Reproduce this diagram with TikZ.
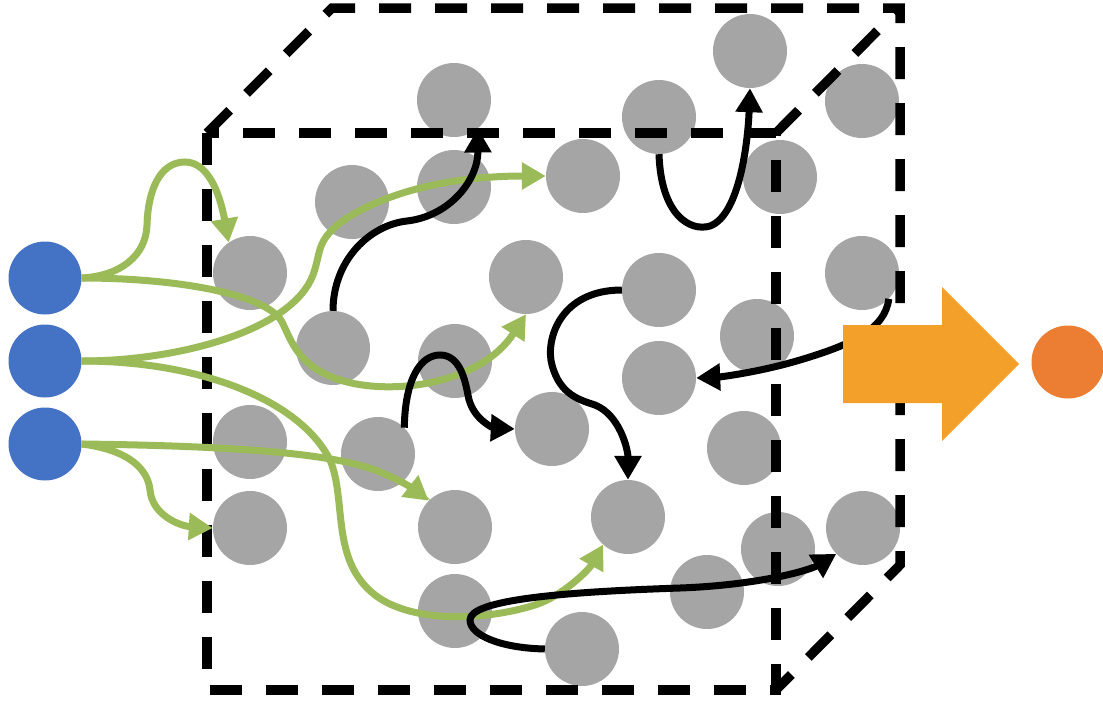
\documentclass[tikz,border=0pt]{standalone}
\usepackage{tikz}
\usetikzlibrary{arrows.meta}

\definecolor{particlegray}{HTML}{A5A5A5}
\definecolor{sourceblue}{HTML}{4472C4}
\definecolor{flowgreen}{HTML}{9BBB59}
\definecolor{bigorange}{HTML}{F3A02B}
\definecolor{outorange}{HTML}{EB7E32}

\tikzset{
  particle/.style={
    circle, fill=particlegray, draw=none,
    minimum size=74pt, inner sep=0pt
  },
  source/.style={
    circle, fill=sourceblue, draw=none,
    minimum size=73pt, inner sep=0pt
  },
  sink/.style={
    circle, fill=outorange, draw=none,
    minimum size=73pt, inner sep=0pt
  },
  inflow/.style={-{Triangle[length=24pt,width=26pt]}, line width=7pt, flowgreen},
  hop/.style={-{Triangle[length=24pt,width=26pt]}, line width=7pt, black},
  cubeedge/.style={line width=9.5pt, dash pattern=on 32pt off 24pt}
}

\begin{document}
\begin{tikzpicture}[x=1pt, y=-1pt]

\useasboundingbox (0,0) rectangle (1103,702);

% ── inputs ───────────────────────────────────────────────────────────────────
\node[source] (b1) at (45,278) {};
\node[source] (b2) at (45,361) {};
\node[source] (b3) at (45,444) {};

% ── particles ────────────────────────────────────────────────────────────────
\node[particle] (g1)  at (454,100) {};
\node[particle] (g2)  at (750,51)  {};
\node[particle] (g3)  at (659,117) {};
\node[particle] (g4)  at (862,101) {};
\node[particle] (g5)  at (352,202) {};
\node[particle] (g6)  at (454,187) {};
\node[particle] (g7)  at (583,176) {};
\node[particle] (g8)  at (780,177) {};
\node[particle] (g9)  at (250,273) {};
\node[particle] (g10) at (526,277) {};
\node[particle] (g11) at (659,290) {};
\node[particle] (g12) at (862,273) {};
\node[particle] (g13) at (333,348) {};
\node[particle] (g14) at (455,361) {};
\node[particle] (g15) at (757,336) {};
\node[particle] (g16) at (659,378) {};
\node[particle] (g17) at (250,442) {};
\node[particle] (g18) at (378,454) {};
\node[particle] (g19) at (552,429) {};
\node[particle] (g20) at (744,448) {};
\node[particle] (g21) at (250,528) {};
\node[particle] (g22) at (455,527) {};
\node[particle] (g23) at (628,517) {};
\node[particle] (g24) at (863,528) {};
\node[particle] (g25) at (778,549) {};
\node[particle] (g26) at (707,592) {};
\node[particle] (g27) at (455,611) {};
\node[particle] (g28) at (582,649) {};

% ── dashed cube ──────────────────────────────────────────────────────────────
\draw[cubeedge] (207,133) rectangle (776,690);
\draw[cubeedge] (207,133) -- (332,8) -- (900,8) -- (900,565) -- (776,690);
\draw[cubeedge] (776,133) -- (900,8);

% ── green inflows ────────────────────────────────────────────────────────────
\draw[inflow] (b1.east) .. controls (120,276) and (146,256) .. (147,225)
  .. controls (148,190) and (160,162) .. (185,162)
  .. controls (212,162) and (222,205) .. (g9.125);
\draw[inflow] (b1.east) .. controls (180,278) and (268,295) .. (282,322)
  .. controls (292,342) and (298,366) .. (340,380)
  .. controls (390,396) and (480,385) .. (g10.south);
\draw[inflow] (b2.east) .. controls (180,361) and (292,330) .. (313,275)
  .. controls (322,250) and (315,240) .. (347,218)
  .. controls (400,185) and (470,176) .. (g7.west);
\draw[inflow] (b2.east) .. controls (200,361) and (300,400) .. (330,460)
  .. controls (347,500) and (330,560) .. (375,595)
  .. controls (410,622) and (480,622) .. (535,605)
  .. controls (565,595) and (590,568) .. (g23.228);
\draw[inflow] (b3.east) .. controls (250,446) and (340,455) .. (380,472)
  .. controls (400,480) and (415,490) .. (g22.135);
\draw[inflow] (b3.east) .. controls (130,450) and (148,470) .. (150,490)
  .. controls (152,515) and (180,526) .. (g21.west);

% ── black hops ───────────────────────────────────────────────────────────────
\draw[hop] (g13.north) .. controls (333,260) and (370,225) .. (407,221)
  .. controls (450,216) and (478,180) .. (g1.310);
\draw[hop] (g3.south) .. controls (661,215) and (690,232) .. (710,226)
  .. controls (740,215) and (748,140) .. (g2.south);
\draw[hop] (g12.316) .. controls (885,330) and (850,345) .. (800,360)
  .. controls (760,372) and (720,377) .. (g16.east);
\draw[hop] (g11.west) .. controls (560,290) and (545,340) .. (552,365)
  .. controls (560,395) and (580,400) .. (595,405)
  .. controls (620,415) and (628,450) .. (g23.north);
\draw[hop] (g18.45) .. controls (405,380) and (420,355) .. (440,355)
  .. controls (460,355) and (465,380) .. (468,395)
  .. controls (472,420) and (495,428) .. (g19.west);
\draw[hop] (g28.west) .. controls (500,648) and (470,635) .. (470,620)
  .. controls (470,600) and (560,592) .. (680,588)
  .. controls (760,585) and (810,570) .. (g24.224);

% ── output ───────────────────────────────────────────────────────────────────
\fill[bigorange] (843,325) -- (942,325) -- (942,287) -- (1019,364)
  -- (942,441) -- (942,403) -- (843,403) -- cycle;
\node[sink] (out) at (1068,362) {};

\end{tikzpicture}
\end{document}
